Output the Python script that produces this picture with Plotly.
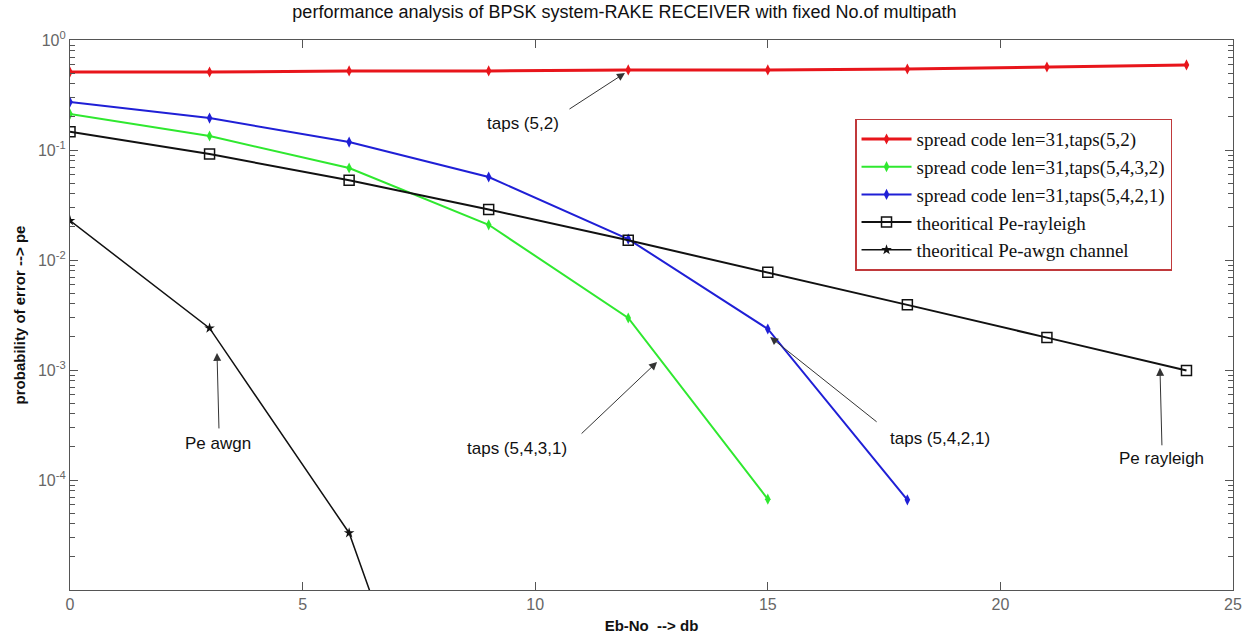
import plotly.graph_objects as go

# ---- data ----
ebno = [0, 3, 6, 9, 12, 15, 18, 21, 24]
pe_taps52 = [0.512, 0.512, 0.523, 0.523, 0.534, 0.534, 0.545, 0.568, 0.593]
ebno_4321 = [0, 3, 6, 9, 12, 15]
pe_taps5432 = [0.212, 0.134, 0.0686, 0.0209, 0.00297, 6.7e-5]
ebno_5421 = [0, 3, 6, 9, 12, 15, 18]
pe_taps5421 = [0.273, 0.195, 0.118, 0.0568, 0.0155, 0.00236, 6.6e-5]
pe_rayleigh = [0.1464, 0.0919, 0.0530, 0.0288, 0.0151, 0.00772, 0.00391, 0.00197, 0.00099]
ebno_awgn = [0, 3, 6, 9]
pe_awgn = [0.0228, 0.00240, 3.3e-5, 9.0e-9]

names = [
    "spread code len=31,taps(5,2)",
    "spread code len=31,taps(5,4,3,2)",
    "spread code len=31,taps(5,4,2,1)",
    "theoritical Pe-rayleigh",
    "theoritical Pe-awgn channel",
]

RED = "#e8151b"
GREEN = "#2fe82f"
BLUE = "#1f1fd6"
BLACK = "#111111"

fig = go.Figure()
fig.add_trace(go.Scatter(x=ebno, y=pe_taps52, name=names[0], mode="lines+markers",
                         line=dict(color=RED, width=3),
                         marker=dict(symbol="diamond-tall", size=8, color=RED)))
fig.add_trace(go.Scatter(x=ebno_4321, y=pe_taps5432, name=names[1], mode="lines+markers",
                         line=dict(color=GREEN, width=2),
                         marker=dict(symbol="diamond-tall", size=8, color=GREEN)))
fig.add_trace(go.Scatter(x=ebno_5421, y=pe_taps5421, name=names[2], mode="lines+markers",
                         line=dict(color=BLUE, width=2),
                         marker=dict(symbol="diamond-tall", size=8, color=BLUE)))
fig.add_trace(go.Scatter(x=ebno, y=pe_rayleigh, name=names[3], mode="lines+markers",
                         line=dict(color=BLACK, width=2),
                         marker=dict(symbol="square-open", size=10, color=BLACK,
                                     line=dict(width=1.5, color=BLACK))))
fig.add_trace(go.Scatter(x=ebno_awgn, y=pe_awgn, name=names[4], mode="lines+markers",
                         line=dict(color=BLACK, width=1.5),
                         marker=dict(symbol="star", size=8, color=BLACK)))

# annotations: (text, head_x, head_logy, arrow_dx_px, arrow_dy_px, text_x, text_logy)
notes = [
    ("taps (5,2)", 11.93, -0.30, -57, 37, 9.74, -0.755),
    ("Pe awgn", 3.16, -2.845, 2, 77, 3.18, -3.67),
    ("taps (5,4,3,1)", 12.62, -2.927, -77, 73, 9.61, -3.71),
    ("taps (5,4,2,1)", 15.05, -2.70, 108, 86, 18.70, -3.62),
    ("Pe rayleigh", 23.43, -2.98, 2, 79, 23.47, -3.80),
]
for txt, hx, hy, dx, dy, tx, ty in notes:
    fig.add_annotation(x=hx, y=hy, xref="x", yref="y", ax=dx, ay=dy, text="",
                       showarrow=True, arrowhead=2, arrowsize=1.6, arrowwidth=1,
                       arrowcolor="#333333")
    fig.add_annotation(x=tx, y=ty, xref="x", yref="y", text=txt, showarrow=False,
                       font=dict(family="Liberation Sans, Arial", size=17, color="#111111"))

major = [1e-4, 1e-3, 1e-2, 1e-1, 1]
major_txt = ["10<sup>-4</sup>", "10<sup>-3</sup>", "10<sup>-2</sup>",
             "10<sup>-1</sup>", "10<sup>0</sup>"]
minor_vals = [m * d for d in [1e-5, 1e-4, 1e-3, 1e-2, 1e-1] for m in range(2, 10)]

fig.update_layout(
    width=1249, height=637,
    margin=dict(l=70, r=16, t=40, b=47),
    paper_bgcolor="white", plot_bgcolor="white",
    title=dict(text="performance analysis of BPSK system-RAKE RECEIVER with fixed No.of multipath",
               x=0.5, xanchor="center", y=0.981, yanchor="middle",
               font=dict(family="Liberation Sans, Arial", size=18, color="#111111")),
    font=dict(family="Liberation Sans, Arial"),
    showlegend=True,
    legend=dict(x=0.675, y=0.857, xanchor="left", yanchor="top",
                bgcolor="white", bordercolor="#c0393b", borderwidth=1.5,
                font=dict(family="Liberation Serif, Times New Roman", size=19, color="#111111"),
                itemwidth=50, tracegroupgap=0),
)
fig.update_xaxes(range=[0, 25], tickvals=[0, 5, 10, 15, 20, 25], automargin=False,
                 showgrid=False, zeroline=False, showline=True, mirror="ticks",
                 linecolor="#555555", linewidth=1.2, ticks="inside", ticklen=8,
                 tickcolor="#555555",
                 tickfont=dict(family="Liberation Sans, Arial", size=16, color="#666666"),
                 title=dict(text="<b>Eb-No  --> db</b>", standoff=8,
                            font=dict(family="Liberation Sans, Arial", size=15, color="#111111")))
fig.update_yaxes(type="log", range=[-5, 0], tickvals=major, ticktext=major_txt, automargin=False,
                 showgrid=False, zeroline=False, showline=True, mirror="ticks",
                 linecolor="#555555", linewidth=1.2, ticks="inside", ticklen=8,
                 tickcolor="#555555",
                 minor=dict(tickvals=minor_vals, ticks="inside", ticklen=5, tickcolor="#555555",
                            showgrid=False),
                 tickfont=dict(family="Liberation Sans, Arial", size=16, color="#666666"),
                 title=dict(text="<b>probability of error --> pe</b>", standoff=8,
                            font=dict(family="Liberation Sans, Arial", size=15, color="#111111")))

fig.write_html("out.html")
